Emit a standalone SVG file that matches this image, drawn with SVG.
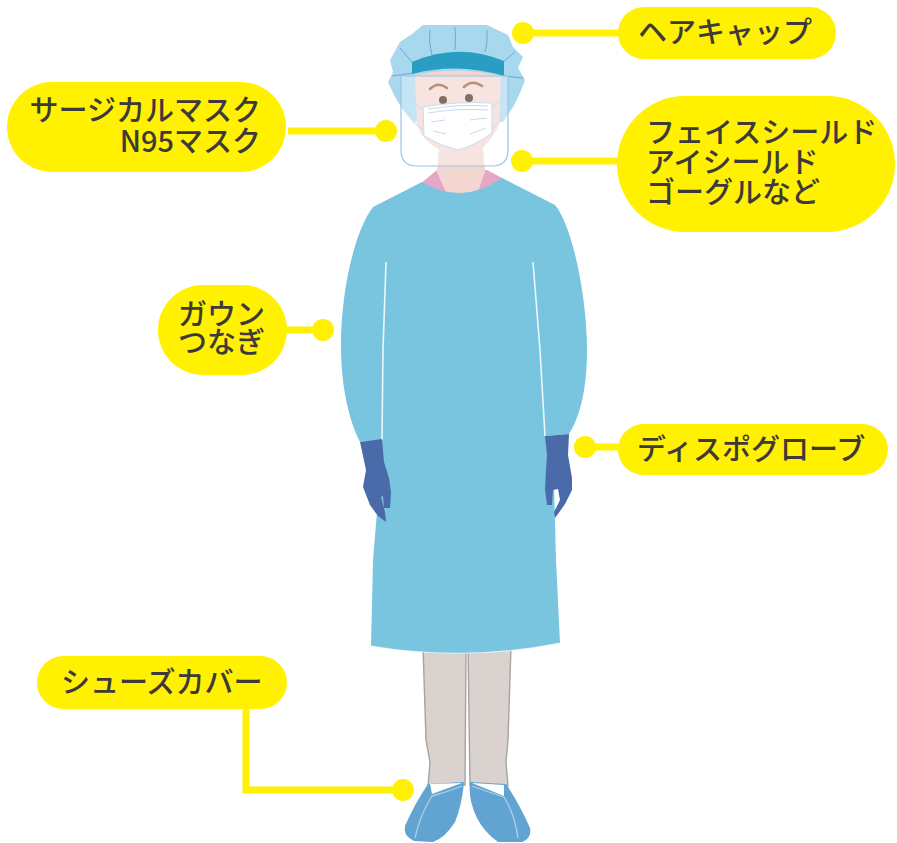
<svg xmlns="http://www.w3.org/2000/svg" width="897" height="843" viewBox="0 0 897 843">
  <style>
    .pill { fill: #fff100; }
    .lbl { font-family: "Noto Sans CJK JP", "Noto Sans", sans-serif; font-size: 29px; font-weight: 500; fill: #3e3a39; }
    .wire { fill: none; stroke: #fff100; stroke-width: 7; }
    .dot { fill: #fff100; }
    .gown { fill: #79c5e0; }
    .seam { fill: none; stroke: #ffffff; stroke-width: 1.6; stroke-opacity: 0.85; }
    .glove { fill: #4b6aa9; }
    .leg { fill: #d9d2ce; stroke: #a9a3a0; stroke-width: 1.4; }
    .cover { fill: #62a4d1; }
    .coverline { fill: none; stroke: #a9d0ec; stroke-width: 1.3; }
  </style>

  <rect width="897" height="843" fill="#ffffff"/>

  <!-- figure wearing protective equipment -->
  <g id="figure">
    <!-- legs -->
    <path class="leg" d="M423,646 L466,646 L465,785 L428,786 L430,762 L426,740 Z"/>
    <path class="leg" d="M468,646 L511,646 L508,740 L506,762 L508,786 L470,785 Z"/>

    <!-- shoe covers -->
    <path class="cover" d="M428,784 L464,782 Q462,805 455,822 Q445,838 433,842 L414,841 Q403,836 405,826 Q414,805 428,784 Z"/>
    <path d="M430,784 L462,783 L432,794 Z" fill="#ffffff"/>
    <path class="coverline" d="M462,786 Q447,792 432,796 Q420,815 415,838"/>
    <path class="cover" d="M470,782 L506,784 Q520,805 530,828 Q532,838 522,842 L498,842 Q484,832 477,818 Q468,800 470,782 Z"/>
    <path d="M472,783 L504,785 L504,796 Z" fill="#ffffff"/>
    <path class="coverline" d="M472,786 Q488,792 504,797 Q515,815 518,838"/>

    <!-- collar and neck -->
    <path d="M420,184 L437,170 L487,170 L504,179 Q462,206 420,184 Z" fill="#e6a7c6"/>
    <path d="M440,138 L482,138 L485,172 L476,197 Q462,199 448,197 L437,172 Z" fill="#f2d6cf"/>

    <!-- gown -->
    <path class="gown" d="M422,182 Q462,206 502,178 L555,205 C572,225 587,295 587,350 C587,395 578,420 569,434 L545,436 L553,445 L556,560 L560,643 Q465,662 371,646 L373,560 L378,500 L382,440 L360,442 C350,422 341,390 341,345 C341,290 355,230 373,207 Z"/>
    <path d="M371,646 Q465,662 560,643" fill="none" stroke="#ffffff" stroke-width="1.2" stroke-opacity="0.6"/>
    <path class="seam" d="M386,262 L383,350 L382,440"/>
    <path class="seam" d="M533,262 L540,350 L545,436"/>

    <!-- gloves -->
    <path class="glove" d="M360,442 L382,439 L384,462 L389,478 L391,492 L390,508 L384,508 L383,496 L381,497 L385,512 L386,522 L378,516 L370,505 L363,487 L366,470 Z"/>
    <path class="glove" d="M545,436 L569,434 L568,455 L572,478 L572,490 L565,504 L558,514 L555,518 L554,512 L560,500 L558,489 L553,490 L552,505 L547,505 L545,490 L546,470 L547,455 Z"/>

    <!-- hair cap -->
    <path d="M423,25 L487,25 L508,35 L513,47 L523,57 L518,68 L525,80 L520,93 L513,107 L503,122 L413,122 L403,110 L395,97 L388,82 L393,72 L390,60 L400,42 L412,34 Z" fill="#a8d8ee"/>
    <path d="M430,30 Q428,42 432,55 M455,27 Q456,40 455,50 M487,30 Q488,42 485,52 M400,48 L412,62 M515,52 L503,62 M392,76 L413,73 M523,78 L503,76" fill="none" stroke="#6fa8cf" stroke-width="1"/>

    <!-- face -->
    <path d="M415,75 Q458,66 501,76 L499,125 Q490,143 480,150 L440,150 Q423,142 417,125 Z" fill="#f2d6cf"/>
    <path d="M412,62 Q458,42 504,61 L504,76 Q458,62 412,74 Z" fill="#2a9dc3"/>

    <!-- eyebrows and eyes -->
    <path d="M430,89 Q438,81 447,88" fill="none" stroke="#8f5534" stroke-width="2.6" stroke-linecap="round"/>
    <path d="M464,87 Q472,79 482,86" fill="none" stroke="#8f5534" stroke-width="2.6" stroke-linecap="round"/>
    <circle cx="443" cy="100" r="4" fill="#3f2212"/>
    <circle cx="469" cy="98" r="4" fill="#3f2212"/>

    <!-- surgical mask -->
    <path d="M424,110 L410,100 M424,130 L413,122 M492,108 L503,98 M492,128 L504,118" fill="none" stroke="#a9c9e6" stroke-width="1"/>
    <path d="M423,107 Q457,101 492,103 L492,133 Q476,145 458,150 Q440,146 424,136 Z" fill="#ffffff" stroke="#a9c9e6" stroke-width="1"/>
    <path d="M428,109 Q458,104 488,106 M428,113 Q458,108 488,110 M431,122 L445,120 M470,120 L487,118 M433,131 L446,134 M470,134 L486,128" fill="none" stroke="#a9c9e6" stroke-width="1"/>

    <!-- face shield -->
    <path d="M401,76 L401,150 Q401,166 417,166 L492,166 Q508,166 508,150 L508,76 Z" fill="#ffffff" fill-opacity="0.35" stroke="#9cc4e4" stroke-width="1.2"/>
  </g>

  <!-- leader lines -->
  <g id="connectors">
    <path class="wire" d="M523,33 H620"/>
    <path class="wire" d="M288,131 H386"/>
    <path class="wire" d="M522,161 H620"/>
    <path class="wire" d="M285,330 H323"/>
    <path class="wire" d="M585,447 H620"/>
    <path class="wire" d="M246,706 V790 H403"/>
    <circle class="dot" cx="523" cy="33" r="11"/>
    <circle class="dot" cx="386" cy="131" r="11"/>
    <circle class="dot" cx="522" cy="161" r="11"/>
    <circle class="dot" cx="323" cy="330" r="11"/>
    <circle class="dot" cx="585" cy="447" r="11"/>
    <circle class="dot" cx="403" cy="790" r="11"/>
  </g>

  <g id="label-haircap">
    <rect class="pill" x="618" y="7" width="218" height="52" rx="26"/>
    <text class="lbl" x="638" y="43">ヘアキャップ</text>
  </g>

  <g id="label-mask">
    <rect class="pill" x="7" y="82" width="279" height="90" rx="45"/>
    <text class="lbl" text-anchor="end"><tspan x="261" y="121">サージカルマスク</tspan><tspan x="261" y="152">N95マスク</tspan></text>
  </g>

  <g id="label-shield">
    <rect class="pill" x="617" y="96" width="278" height="136" rx="68"/>
    <text class="lbl"><tspan x="646" y="143">フェイスシールド</tspan><tspan x="646" y="173">アイシールド</tspan><tspan x="646" y="203">ゴーグルなど</tspan></text>
  </g>

  <g id="label-gown">
    <rect class="pill" x="158" y="285" width="129" height="90" rx="45"/>
    <text class="lbl"><tspan x="178" y="325">ガウン</tspan><tspan x="178" y="353">つなぎ</tspan></text>
  </g>

  <g id="label-gloves">
    <rect class="pill" x="618" y="424" width="270" height="51" rx="25.5"/>
    <text class="lbl" x="637" y="460">ディスポグローブ</text>
  </g>

  <g id="label-shoecover">
    <rect class="pill" x="37" y="656" width="250" height="53" rx="26.5"/>
    <text class="lbl" x="61" y="693">シューズカバー</text>
  </g>
</svg>
